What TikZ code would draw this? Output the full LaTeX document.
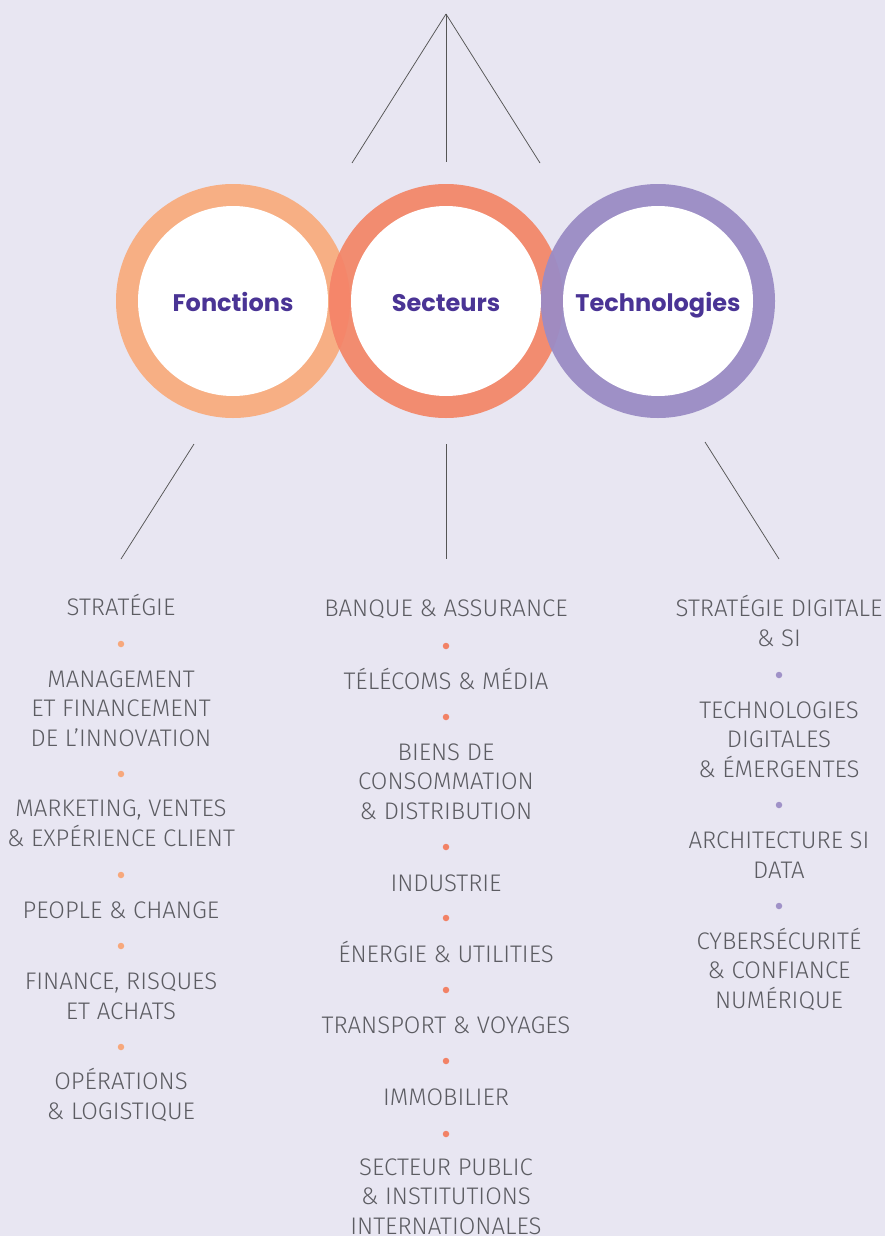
\documentclass[tikz,border=0pt]{standalone}
\usepackage{fontspec}
\setmainfont{Fira Sans Light}
\newfontfamily\titlefont{Poppins}
\definecolor{bg}{HTML}{E8E6F2}
\definecolor{fonc}{HTML}{F7AF84}
\definecolor{sect}{HTML}{F28C70}
\definecolor{tech}{HTML}{9E90C6}
\definecolor{fsmix}{HTML}{F5866A}
\definecolor{stmix}{HTML}{A08BC0}
\definecolor{txt}{HTML}{5C5C62}
\definecolor{ttl}{HTML}{4A3495}
\definecolor{lin}{HTML}{555555}
\definecolor{dotF}{HTML}{F7A87C}
\definecolor{dotS}{HTML}{F28266}
\definecolor{dotT}{HTML}{A092C8}
\begin{document}
\begin{tikzpicture}[x=1pt,y=-1pt,
  hub/.style={circle,fill=white,minimum size=190pt,inner sep=0pt,
    text height=20pt,text depth=0pt,
    font=\titlefont\bfseries\fontsize{24}{28}\selectfont,text=ttl},
  item/.style={anchor=base,align=center,text=txt,inner sep=0pt,
    font=\fontsize{24}{29.5}\selectfont},
  sep/.style={circle,inner sep=0pt,minimum size=6.5pt},
  link/.style={draw=lin,line width=0.75pt}]
\fill[bg] (0,0) rectangle (885,1236);
\useasboundingbox (0,0) rectangle (885,1236);
% rings
\fill[fonc] (233,301) circle (117);
\fill[sect] (446,301) circle (117);
\begin{scope}
  \clip (233,301) circle (117);
  \fill[fsmix] (446,301) circle (117);
\end{scope}
\fill[tech] (658,301) circle (117);
\begin{scope}
  \clip (446,301) circle (117);
  \fill[stmix] (658,301) circle (117);
\end{scope}
\node[hub] (fonc) at (233,301) {Fonctions};
\node[hub] (sect) at (446,301) {Secteurs};
\node[hub] (tech) at (658,301) {Technologies};
% top connectors
\coordinate (apex) at (446,14);
\coordinate (tl) at (352,163);
\coordinate (tm) at (446,162);
\coordinate (tr) at (540,163);
\draw[link] (apex) -- (tl);
\draw[link] (apex) -- (tm);
\draw[link] (apex) -- (tr);
% bottom connectors
\coordinate (fa) at (194,444);
\coordinate (fb) at (121,559);
\coordinate (sa) at (446,444);
\coordinate (sb) at (446,559);
\coordinate (ta) at (705,442);
\coordinate (tb) at (779,559);
\draw[link] (fa) -- (fb);
\draw[link] (sa) -- (sb);
\draw[link] (ta) -- (tb);
% Fonctions list (anchor = baseline of last line)
\node[item] (f1) at (121,615) {STRATÉGIE};
\node[sep,fill=dotF] (fd1) at (121,644) {};
\node[item] (f2) at (121,746) {MANAGEMENT\\ET FINANCEMENT\\DE L’INNOVATION};
\node[sep,fill=dotF] (fd2) at (121,774) {};
\node[item] (f3) at (121,846) {MARKETING, VENTES\\\& EXPÉRIENCE CLIENT};
\node[sep,fill=dotF] (fd3) at (121,875) {};
\node[item] (f4) at (121,918) {PEOPLE \& CHANGE};
\node[sep,fill=dotF] (fd4) at (121,946) {};
\node[item] (f5) at (121,1019) {FINANCE, RISQUES\\ET ACHATS};
\node[sep,fill=dotF] (fd5) at (121,1047) {};
\node[item] (f6) at (121,1119) {OPÉRATIONS\\\& LOGISTIQUE};
% Secteurs list
\node[item] (s1) at (446,616) {BANQUE \& ASSURANCE};
\node[sep,fill=dotS] (sd1) at (446,646) {};
\node[item] (s2) at (446,689) {TÉLÉCOMS \& MÉDIA};
\node[sep,fill=dotS] (sd2) at (446,717) {};
\node[item] (s3) at (446,819) {BIENS DE\\CONSOMMATION\\\& DISTRIBUTION};
\node[sep,fill=dotS] (sd3) at (446,847) {};
\node[item] (s4) at (446,891) {INDUSTRIE};
\node[sep,fill=dotS] (sd4) at (446,918) {};
\node[item] (s5) at (446,962) {ÉNERGIE \& UTILITIES};
\node[sep,fill=dotS] (sd5) at (446,990) {};
\node[item] (s6) at (446,1033) {TRANSPORT \& VOYAGES};
\node[sep,fill=dotS] (sd6) at (446,1061) {};
\node[item] (s7) at (446,1105) {IMMOBILIER};
\node[sep,fill=dotS] (sd7) at (446,1134) {};
\node[item] (s8) at (446,1234) {SECTEUR PUBLIC\\\& INSTITUTIONS\\INTERNATIONALES};
% Technologies list
\node[item] (t1) at (779,646) {STRATÉGIE DIGITALE\\\& SI};
\node[sep,fill=dotT] (td1) at (779,675) {};
\node[item] (t2) at (779,777) {TECHNOLOGIES\\DIGITALES\\\& ÉMERGENTES};
\node[sep,fill=dotT] (td2) at (779,805) {};
\node[item] (t3) at (779,878) {ARCHITECTURE SI\\DATA};
\node[sep,fill=dotT] (td3) at (779,906) {};
\node[item] (t4) at (779,1008) {CYBERSÉCURITÉ\\\& CONFIANCE\\NUMÉRIQUE};
\end{tikzpicture}
\end{document}
